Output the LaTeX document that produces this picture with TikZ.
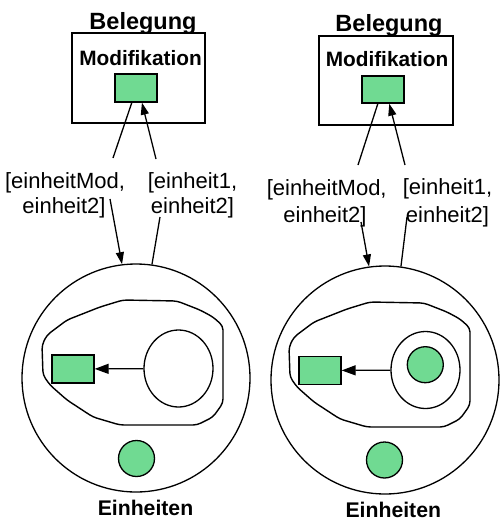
\documentclass[tikz,border=0pt]{standalone}
\usepackage{fontspec}
\setmainfont{Liberation Sans}
\usetikzlibrary{arrows.meta,positioning,shapes.geometric}
\definecolor{unitgreen}{RGB}{112,218,146}
\tikzset{
  belbox/.style  = {rectangle, draw=black, line width=1.4pt, inner sep=0pt},
  modslot/.style = {rectangle, draw=black, line width=1.3pt, fill=unitgreen,
                    minimum width=42pt, minimum height=28pt, inner sep=0pt},
  unitdot/.style = {circle, draw=black, line width=1.3pt, fill=unitgreen,
                    minimum size=36pt, inner sep=0pt},
  einbox/.style  = {circle, draw=black, line width=1.3pt, minimum size=228pt,
                    inner sep=0pt},
  varcell/.style = {ellipse, draw=black, line width=1.3pt, minimum width=69pt,
                    minimum height=77pt, inner sep=0pt},
  zoneline/.style = {draw=black, line width=1.4pt, rounded corners=4pt},
  ttl/.style  = {font=\fontsize{23.5}{28}\selectfont\bfseries, anchor=base, inner sep=0pt},
  sub/.style  = {font=\fontsize{20.8}{25}\selectfont\bfseries, anchor=base, inner sep=0pt},
  foot/.style = {font=\fontsize{21.2}{25}\selectfont\bfseries, anchor=base, inner sep=0pt},
  lbl/.style  = {font=\fontsize{22}{26}\selectfont, anchor=base, inner sep=0pt},
  ln/.style   = {line width=1.3pt},
  ar/.style   = {ln, -{Triangle[length=12pt,width=8pt]}},
  arin/.style = {ln, -{Triangle[length=14pt,width=10pt]}}
}

\begin{document}
\begin{tikzpicture}[x=1pt, y=-1pt]
    \useasboundingbox (0,0) rectangle (500,520);

    % ---- left: Belegung ----
    \node[belbox, minimum width=133pt, minimum height=90pt] (l-beleg) at (138.5,78) {};
    \node[ttl] (l-titel) at (143,29) {Belegung};
    \node[sub] (l-modtxt) at (140.5,65.7) {Modifikation};
    \node[modslot] (l-mod) at (136,88) {};

    % ---- left: Einheiten ----
    \node[einbox] (l-ein) at (136,378) {};
    \draw[zoneline] (123,300) -- (177,301) -- (200,310) -- (213,317) -- (223,326)
        -- (223,403) -- (213,417) -- (197,425) -- (120,425) -- (93,417) -- (67,400)
        -- (50,385) -- (43,375) -- (42,345) -- (47,335) -- (67,320) -- (100,307) -- cycle;
    \node[modslot] (l-ziel) at (73,369) {};
    \node[varcell] (l-var) at (178.5,368.5) {};
    \node[unitdot] (l-frei) at (136.5,458.5) {};
    \node[foot] (l-fuss) at (145.5,515) {Einheiten};
    \draw[arin] (l-var) -- (l-ziel);

    % ---- left: labels and arrows ----
    \node[lbl] (l-ta1) at (65,188) {[einheitMod,};
    \node[lbl] (l-ta2) at (64,213) {einheit2]};
    \node[lbl] (l-tb1) at (192.5,188) {[einheit1,};
    \node[lbl] (l-tb2) at (192.5,213) {einheit2]};
    \coordinate (l-a1) at (113,158);
    \coordinate (l-a2) at (110,199);
    \coordinate (l-b1) at (156,159);
    \coordinate (l-b2) at (160,217);
    \draw[ln] (l-mod.-106) -- (l-a1);
    \draw[ar] (l-a2) -- (l-ein.97);
    \draw[ln] (l-ein.82) -- (l-b2);
    \draw[ar] (l-b1) -- (l-mod.-68);

    % ---- right: Belegung ----
    \node[belbox, minimum width=134pt, minimum height=89pt] (r-beleg) at (386,80.5) {};
    \node[ttl] (r-titel) at (389,31) {Belegung};
    \node[sub] (r-modtxt) at (387,66.5) {Modifikation};
    \node[modslot, minimum height=27pt] (r-mod) at (383,89.5) {};

    % ---- right: Einheiten ----
    \node[einbox] (r-ein) at (385,380) {};
    \draw[zoneline] (370,302) -- (424,303) -- (447,312) -- (460,319) -- (470,328)
        -- (470,405) -- (460,419) -- (444,427) -- (367,427) -- (340,419) -- (314,402)
        -- (297,387) -- (290,377) -- (289,347) -- (294,337) -- (314,322) -- (347,309) -- cycle;
    \node[modslot] (r-ziel) at (320,370.5) {};
    \node[varcell] (r-var) at (425.5,370) {};
    \node[unitdot] (r-wert) at (425.3,364.7) {};
    \node[unitdot] (r-frei) at (384.5,460) {};
    \node[foot] (r-fuss) at (393.3,517) {Einheiten};
    \draw[arin] (r-var) -- (r-ziel);

    % ---- right: labels and arrows ----
    \node[lbl] (r-ta1) at (326.7,195) {[einheitMod,};
    \node[lbl] (r-ta2) at (325,222.7) {einheit2]};
    \node[lbl] (r-tb1) at (447.5,194.3) {[einheit1,};
    \node[lbl] (r-tb2) at (447.5,222) {einheit2]};
    \coordinate (r-a1) at (358,165);
    \coordinate (r-a2) at (361,222);
    \coordinate (r-b1) at (405,165);
    \coordinate (r-b2) at (407,217);
    \draw[ln] (r-mod.-110) -- (r-a1);
    \draw[ar] (r-a2) -- (r-ein.98.5);
    \draw[ln] (r-ein.82) -- (r-b2);
    \draw[ar] (r-b1) -- (r-mod.-66);
\end{tikzpicture}
\end{document}
